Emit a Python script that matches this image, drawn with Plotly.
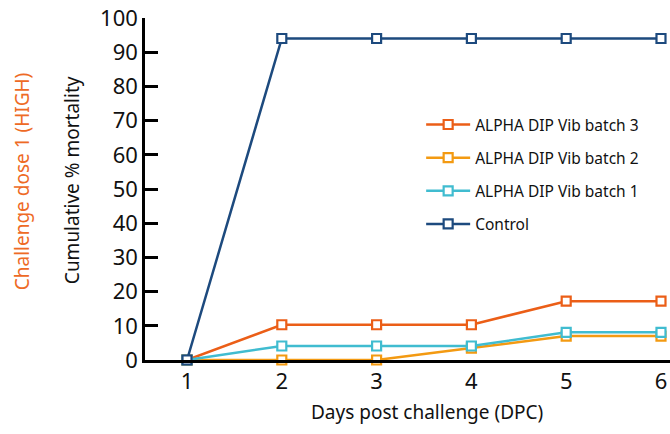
import plotly.graph_objects as go

days = [1, 2, 3, 4, 5, 6]
batch3 = [0, 10.3, 10.3, 10.3, 17.2, 17.2]
batch2 = [0, 0, 0, 3.5, 7.0, 7.0]
batch1 = [0, 4.1, 4.1, 4.1, 8.1, 8.1]
control = [0, 94, 94, 94, 94, 94]
names = ["ALPHA DIP Vib batch 3", "ALPHA DIP Vib batch 2", "ALPHA DIP Vib batch 1", "Control"]
colors = ["#EB5E17", "#F39A12", "#40BCD0", "#1D4A7E"]
series = [batch3, batch2, batch1, control]

FONT = "Noto Sans, Open Sans, sans-serif"
TXT = "#111111"

fig = go.Figure()
for i, (name, col, vals) in enumerate(zip(names, colors, series)):
    fig.add_trace(go.Scatter(
        x=days, y=vals, name=name, mode="lines+markers", legendgroup=f"g{i}",
        line=dict(color=col, width=2.5),
        marker=dict(symbol="square", size=9, color="white", line=dict(color=col, width=2.2)),
        cliponaxis=False,
    ))

fig.update_layout(
    width=670, height=434,
    margin=dict(l=145, r=0, t=18, b=74, autoexpand=False),
    paper_bgcolor="white", plot_bgcolor="white",
    font=dict(family=FONT, color=TXT),
    showlegend=True,
    legend=dict(
        x=0.526, y=0.737, xanchor="left", yanchor="top",
        font=dict(size=15.5, family=FONT, color=TXT),
        bgcolor="rgba(0,0,0,0)", tracegroupgap=10, itemwidth=44,
    ),
    xaxis=dict(
        range=[0.557, 6.095], tickvals=days, ticks="", showgrid=False, zeroline=False,
        showline=True, linecolor="black", linewidth=2.5, automargin=False,
        ticklabeloverflow="allow",
        tickfont=dict(size=22, family=FONT, color=TXT),
    ),
    yaxis=dict(
        range=[0, 100], tickvals=list(range(0, 101, 10)), ticks="inside", ticklen=13,
        tickwidth=2.5, tickcolor="black", showgrid=False, zeroline=False,
        showline=True, linecolor="black", linewidth=2.5, automargin=False,
        ticklabeloverflow="allow",
        tickfont=dict(size=22, family=FONT, color=TXT),
    ),
    annotations=[
        dict(text="Days post challenge (DPC)", xref="paper", yref="paper",
             x=0.537, y=-0.152, xanchor="center", yanchor="middle", showarrow=False,
             font=dict(size=19, family=FONT, color=TXT)),
        dict(text="Cumulative % mortality", textangle=-90, xref="paper", yref="paper",
             x=-0.139, y=0.526, xanchor="center", yanchor="middle", showarrow=False,
             font=dict(size=19, family=FONT, color=TXT)),
        dict(text="Challenge dose 1 (HIGH)", textangle=-90, xref="paper", yref="paper",
             x=-0.234, y=0.523, xanchor="center", yanchor="middle", showarrow=False,
             font=dict(size=19, family=FONT, color="#EE6A25")),
    ],
)

fig.write_html("out.html", config={"displayModeBar": False},
               post_script="document.body.style.margin='0';")
